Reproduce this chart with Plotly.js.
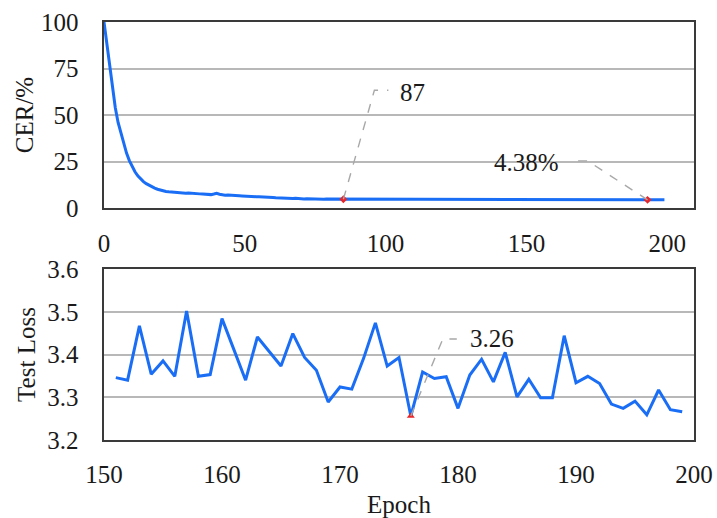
<!DOCTYPE html>
<html>
<head>
<meta charset="utf-8">
<script src="https://cdn.plot.ly/plotly-3.0.1.min.js"></script>
<style>html,body{margin:0;padding:0;background:#fff;}#chart{width:717px;height:518px;}</style>
</head>
<body>
<div id="chart"></div>
<script>
// ---- Top panel: CER (%) per epoch 0..199 ----
const cerEpochs = Array.from({length: 200}, (_, i) => i);
const cerValues = [
  100, 88, 77, 66, 54, 46, 40, 34, 29.5, 25.5, 22, 19.5, 17.3, 15.6, 14.2, 13.1, 12.2, 11.4, 10.7, 10.1,
  9.6, 9.2, 8.9, 8.7, 8.5, 8.3, 8.2, 8.0, 7.9, 7.9, 8.1, 7.9, 7.8, 7.7, 7.6, 7.5, 7.3, 7.2, 7.2, 7.5,
  7.9, 7.4, 7.0, 6.9, 7.0, 6.8, 6.7, 6.8, 6.6, 6.5, 6.5, 6.4, 6.2, 6.3, 6.1, 6.0, 6.0, 5.9, 5.7, 5.8,
  5.6, 5.5, 5.4, 5.5, 5.3, 5.2, 5.2, 5.1, 5.2, 5.0, 5.0, 4.9, 5.0, 4.9, 4.8, 4.9, 4.8, 4.8, 4.7, 4.8,
  4.8, 4.7, 4.7, 4.8, 4.7, 4.7, 4.8, 4.6, 4.7, 4.7, 4.6, 4.7, 4.8, 4.6, 4.6, 4.7, 4.6, 4.7, 4.6, 4.6,
  4.7, 4.6, 4.6, 4.7, 4.5, 4.6, 4.6, 4.7, 4.6, 4.5, 4.6, 4.6, 4.7, 4.6, 4.5, 4.6, 4.6, 4.5, 4.6, 4.7,
  4.6, 4.5, 4.6, 4.5, 4.6, 4.6, 4.5, 4.5, 4.6, 4.7, 4.6, 4.5, 4.5, 4.6, 4.5, 4.5, 4.6, 4.5, 4.5, 4.6,
  4.5, 4.5, 4.6, 4.5, 4.4, 4.5, 4.6, 4.5, 4.5, 4.5, 4.6, 4.5, 4.5, 4.4, 4.5, 4.5, 4.6, 4.5, 4.4, 4.5,
  4.5, 4.5, 4.4, 4.5, 4.5, 4.6, 4.5, 4.4, 4.5, 4.5, 4.4, 4.5, 4.5, 4.4, 4.5, 4.5, 4.4, 4.4, 4.5, 4.5,
  4.4, 4.5, 4.4, 4.4, 4.5, 4.4, 4.4, 4.5, 4.4, 4.4, 4.5, 4.4, 4.4, 4.38, 4.4, 4.4, 4.5, 4.4, 4.4, 4.4
];
const cerMarkEpochs = [85, 193];
const cerMarkValues = [4.7, 4.38];
const cerMarkLabels = ['87', '4.38%'];
const cerTicks = [0, 50, 100, 150, 200];
const cerYTicks = [0, 25, 50, 75, 100];

// ---- Bottom panel: Test loss, epochs 151..199 ----
const lossEpochs = [151,152,153,154,155,156,157,158,159,160,161,162,163,164,165,166,167,168,169,170,
  171,172,173,174,175,176,177,178,179,180,181,182,183,184,185,186,187,188,189,190,
  191,192,193,194,195,196,197,198,199];
const lossValues = [3.346,3.340,3.467,3.354,3.385,3.349,3.502,3.349,3.353,3.484,3.412,3.340,3.441,3.406,3.373,3.449,3.393,3.363,3.289,3.324,
  3.319,3.391,3.474,3.373,3.393,3.256,3.359,3.344,3.348,3.274,3.352,3.389,3.336,3.405,3.301,3.342,3.299,3.299,3.444,3.334,
  3.349,3.332,3.284,3.274,3.291,3.259,3.317,3.271,3.266];
const lossMarkEpochs = [176];
const lossMarkValues = [3.256];
const lossMarkLabels = ['3.26'];
const lossTicks = [150, 160, 170, 180, 190, 200];
const lossYTicks = [3.2, 3.3, 3.4, 3.5, 3.6];

const FONT = "'Liberation Serif', 'Times New Roman', serif";
const BLUE = '#1a6ef5';
const RED = '#e8262a';
const LEADER = '#a8a8a8';
const TXT = '#1a1a1a';

const traces = [
  {x: cerEpochs, y: cerValues, xaxis: 'x', yaxis: 'y', type: 'scatter', mode: 'lines',
   line: {color: BLUE, width: 3}},
  {x: cerMarkEpochs, y: cerMarkValues, xaxis: 'x', yaxis: 'y', type: 'scatter', mode: 'markers',
   marker: {symbol: 'diamond', size: 6, color: RED}},
  {x: lossEpochs, y: lossValues, xaxis: 'x2', yaxis: 'y2', type: 'scatter', mode: 'lines',
   line: {color: BLUE, width: 3}},
  {x: lossMarkEpochs, y: lossMarkValues, xaxis: 'x2', yaxis: 'y2', type: 'scatter', mode: 'markers',
   marker: {symbol: 'triangle-up', size: 7, color: RED}}
];

const axisCommon = {
  showline: true, mirror: true, linecolor: '#3a3a3a', linewidth: 1.6,
  zeroline: false, ticks: 'outside', tickcolor: 'rgba(0,0,0,0)',
  tickfont: {family: FONT, size: 25, color: TXT}
};

// leader-line offsets (pixels relative to the marker)
const cerLeaderPaths = ['M0,0 L31,109 L45,109', 'M0,0 L-60,39 L-77,39'];
const cerLabelShift = [[55, 107, 'left'], [-121, 37, 'center']];
const lossLeaderPaths = ['M0,0 L32,77 L46,77'];
const lossLabelShift = [[57, 78, 'left']];

const shapes = [];
const annotations = [];
cerMarkEpochs.forEach((ep, i) => {
  shapes.push({type: 'path', xref: 'x', yref: 'y', xsizemode: 'pixel', ysizemode: 'pixel',
    xanchor: ep, yanchor: cerMarkValues[i], path: cerLeaderPaths[i],
    line: {color: LEADER, width: 1.4, dash: 'dash'}});
  annotations.push({xref: 'x', yref: 'y', x: ep, y: cerMarkValues[i], text: cerMarkLabels[i],
    showarrow: false, xshift: cerLabelShift[i][0], yshift: cerLabelShift[i][1],
    xanchor: cerLabelShift[i][2], yanchor: 'middle', font: {family: FONT, size: 25, color: TXT}});
});
lossMarkEpochs.forEach((ep, i) => {
  shapes.push({type: 'path', xref: 'x2', yref: 'y2', xsizemode: 'pixel', ysizemode: 'pixel',
    xanchor: ep, yanchor: lossMarkValues[i], path: lossLeaderPaths[i],
    line: {color: LEADER, width: 1.4, dash: 'dash'}});
  annotations.push({xref: 'x2', yref: 'y2', x: ep, y: lossMarkValues[i], text: lossMarkLabels[i],
    showarrow: false, xshift: lossLabelShift[i][0], yshift: lossLabelShift[i][1],
    xanchor: lossLabelShift[i][2], yanchor: 'middle', font: {family: FONT, size: 25, color: TXT}});
});

const layout = {
  width: 717, height: 518,
  margin: {l: 104, r: 23, t: 22, b: 78},
  paper_bgcolor: '#ffffff', plot_bgcolor: '#ffffff',
  showlegend: false,
  font: {family: FONT, size: 25, color: TXT},
  xaxis: Object.assign({}, axisCommon, {
    domain: [0, 1], anchor: 'y', range: [0, 209.5], tickvals: cerTicks, ticklen: 12,
    showgrid: false
  }),
  yaxis: Object.assign({}, axisCommon, {
    domain: [0.555, 1], anchor: 'x', range: [0, 100], tickvals: cerYTicks, ticklen: 19,
    showgrid: true, gridcolor: '#b8b8b8', gridwidth: 2,
    title: {text: 'CER/%', font: {family: FONT, size: 25, color: TXT}, standoff: 0}
  }),
  xaxis2: Object.assign({}, axisCommon, {
    domain: [0, 1], anchor: 'y2', range: [150, 200], tickvals: lossTicks, ticklen: 11,
    showgrid: false,
    title: {text: 'Epoch', font: {family: FONT, size: 25, color: TXT}, standoff: 10}
  }),
  yaxis2: Object.assign({}, axisCommon, {
    domain: [0, 0.409], anchor: 'x2', range: [3.2, 3.6], tickvals: lossYTicks,
    ticktext: lossYTicks.map(v => v.toFixed(1)), ticklen: 19,
    showgrid: true, gridcolor: '#b8b8b8', gridwidth: 2,
    title: {text: 'Test Loss', font: {family: FONT, size: 25, color: TXT}, standoff: 4}
  }),
  shapes: shapes,
  annotations: annotations
};

Plotly.newPlot('chart', traces, layout, {displayModeBar: false, staticPlot: true});
</script>
</body>
</html>
